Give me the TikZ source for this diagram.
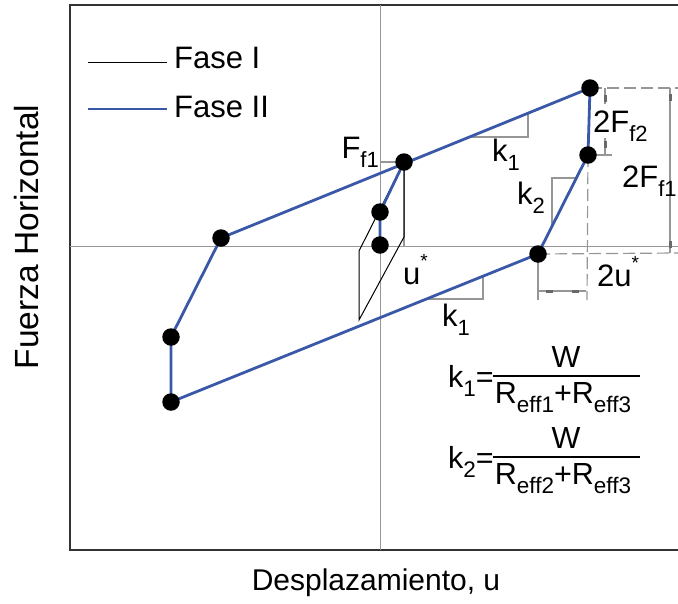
\documentclass[tikz,border=0pt]{standalone}
\usepackage{fontspec}
\usepackage{graphicx}
\setmainfont{Liberation Sans}
\usetikzlibrary{arrows.meta}
\definecolor{fblue}{RGB}{58,88,168}
\definecolor{agray}{RGB}{150,150,150}
\newcommand\sbs[1]{\raisebox{-0.3em}{\fontsize{22}{22}\selectfont #1}}
\newcommand\fsbs[1]{\raisebox{-0.3em}{\fontsize{22.5}{22.5}\selectfont #1}}
\newcommand\sps[1]{\raisebox{0.55em}{\fontsize{19}{19}\selectfont #1}}
\tikzset{
  frame/.style={draw=black!80, line width=1.8pt},
  axisline/.style={draw=agray, line width=1pt},
  phaseone/.style={draw=black, line width=1pt},
  phasetwo/.style={draw=fblue, line width=2.8pt, line join=round},
  dotnode/.style={circle, fill=black, inner sep=0pt, minimum size=17.5pt},
  helper/.style={draw=agray, line width=1.1pt},
  dimdash/.style={draw=agray, line width=1.2pt, dash pattern=on 12pt off 5pt},
  mark/.style={fill=agray!70!black, inner sep=0pt, minimum width=#1},
  lbl/.style={inner sep=0pt, font=\fontsize{31}{31}\selectfont},
  flbl/.style={inner sep=0pt, font=\fontsize{30.5}{30.5}\selectfont},
}
\begin{document}
\begin{tikzpicture}[x=1pt,y=-1pt]
\useasboundingbox (0,0) rectangle (678,603);
\begin{scope}
\clip (0,0) rectangle (678,603);
% frame and axes
\draw[frame] (678,5) -- (70,5) -- (70,550) -- (678,550);
\coordinate (vtop) at (380,5);
\coordinate (vbot) at (380,550);
\coordinate (hl) at (70,246);
\coordinate (hr) at (678,246);
\draw[axisline] (vtop) -- (vbot);
\draw[axisline] (hl) -- (hr);

% points
\coordinate (A) at (590,88);
\coordinate (B) at (588,155);
\coordinate (C) at (538,254);
\coordinate (D) at (171,402);
\coordinate (E) at (171,337);
\coordinate (F) at (221,238);
\coordinate (G) at (404,162);
\coordinate (H) at (380,212);
\coordinate (I) at (380,245);
\coordinate (P1) at (404,237);
\coordinate (P2) at (359,320);
\coordinate (P3) at (359,251);

% helper lines (gray)
\coordinate (g1) at (380,162);
\coordinate (g2) at (404,246);
\draw[helper] (g1) -- (G) -- (g2);
\coordinate (t1a) at (469,137); \coordinate (t1b) at (528,137); \coordinate (t1c) at (528,113);
\draw[helper] (t1a) -- (t1b) -- (t1c);
\coordinate (t2a) at (552,226); \coordinate (t2b) at (552,178); \coordinate (t2c) at (576,178);
\draw[helper] (t2a) -- (t2b) -- (t2c);
\coordinate (t3a) at (426,299); \coordinate (t3b) at (483,299); \coordinate (t3c) at (483,276);
\draw[helper] (t3a) -- (t3b) -- (t3c);

% dimension lines
\coordinate (dA) at (678,88);
\coordinate (dB) at (612,155);
\coordinate (dC) at (678,253);
\coordinate (dBd) at (587,300);
\coordinate (dCd) at (538,300);
\draw[dimdash] (A) -- (dA);
\draw[helper] (B) -- (dB);
\draw[dimdash] (C) -- (dC);
\draw[dimdash] (B) -- (dBd);
\draw[helper] (C) -- (dCd);
% 2Ff2
\coordinate (f2a) at (605,88); \coordinate (f2b) at (605,104);
\coordinate (f2c) at (605,138); \coordinate (f2d) at (605,155);
\draw[helper] (f2a) -- (f2b);
\draw[helper] (f2c) -- (f2d);
\node[mark=3pt, minimum height=7pt] (m1) at (605,98) {};
\node[mark=3pt, minimum height=7pt] (m2) at (605,144) {};
% 2Ff1
\coordinate (f1a) at (670,88); \coordinate (f1b) at (670,253);
\draw[helper] (f1a) -- (f1b);
\node[mark=3pt, minimum height=7pt] (m3) at (670,97) {};
\node[mark=3pt, minimum height=7pt] (m4) at (670,244) {};
% 2u*
\coordinate (ua) at (539,291); \coordinate (ub) at (586,291);
\draw[helper] (ua) -- (ub);
\node[mark=7pt, minimum height=3pt] (m5) at (549,291) {};
\node[mark=7pt, minimum height=3pt] (m6) at (575,291) {};

% Fase I loop
\draw[phaseone] (G) -- (P1) -- (P2) -- (P3) -- cycle;

% Fase II loop
\draw[phasetwo] (F) -- (A) -- (B) -- (C) -- (D) -- (E) -- cycle;
\draw[phasetwo] (G) -- (H) -- (I);

% dots
\foreach \p in {A,B,C,D,E,F,G,H,I}
  \node[dotnode] (dot\p) at (\p) {};

% legend
\coordinate (l1a) at (88,62); \coordinate (l1b) at (167,62);
\coordinate (l2a) at (88,109); \coordinate (l2b) at (167,109);
\draw[phaseone] (l1a) -- (l1b);
\draw[phasetwo] (l2a) -- (l2b);
\node[lbl, anchor=west] (leg1) at (174,58) {Fase I};
\node[lbl, anchor=west] (leg2) at (174,107) {Fase II};

% labels
\node[lbl, anchor=east] (Ff1) at (379,152) {F\sbs{f1}};
\node[lbl] (k1u) at (506,155) {k\sbs{1}};
\node[lbl] (k2) at (531,198) {k\sbs{2}};
\node[lbl] (k1l) at (456,320) {k\sbs{1}};
\node[lbl, anchor=west] (ustar) at (403,270) {u\sps{*}};
\node[lbl, anchor=west] (Ff2) at (593,126) {2F\sbs{f2}};
\node[lbl, anchor=west] (Ff1b) at (622,181) {2F\sbs{f1}};
\node[lbl, anchor=west] (ustar2) at (597,272) {2u\sps{*}};

% formulas
\node[flbl, anchor=east] (k1eq) at (494,381) {k\fsbs{1}=};
\coordinate (b1a) at (493,376); \coordinate (b1b) at (640,376);
\draw[line width=1.5pt] (b1a) -- (b1b);
\node[flbl] (W1) at (566,357) {W};
\node[flbl] (den1) at (563,398) {R\fsbs{eff1}+R\fsbs{eff3}};
\node[flbl, anchor=east] (k2eq) at (494,462) {k\fsbs{2}=};
\coordinate (b2a) at (493,457); \coordinate (b2b) at (640,457);
\draw[line width=1.5pt] (b2a) -- (b2b);
\node[flbl] (W2) at (566,438) {W};
\node[flbl] (den2) at (563,479) {R\fsbs{eff2}+R\fsbs{eff3}};

% axis titles
\node[inner sep=0pt, font=\fontsize{33.5}{33.5}\selectfont, rotate=90] (ylab) at (27,237) {Fuerza Horizontal};
\node[inner sep=0pt, font=\fontsize{30}{30}\selectfont] (xlab) at (376,583) {Desplazamiento, u};
\end{scope}
\end{tikzpicture}
\end{document}
